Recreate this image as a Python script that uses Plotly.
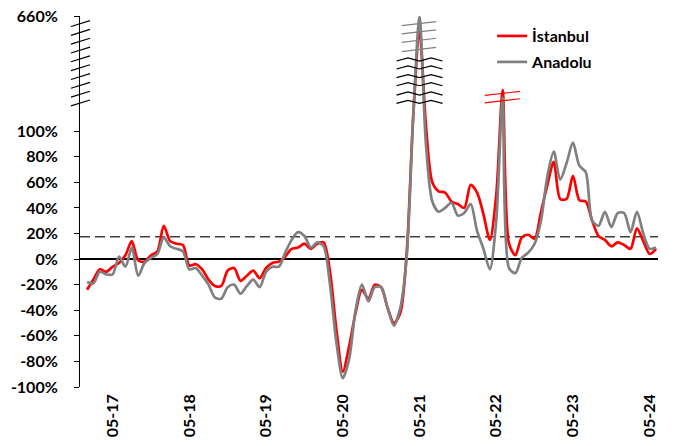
import plotly.graph_objects as go

# Monthly series, Jan 2017 .. Jun 2024 (annual change, %)
months = [f"{m:02d}-{y:02d}" for y in range(17, 25) for m in range(1, 13)][:90]

istanbul = [-24, -16, -8, -10, -6, -3, 3, 14, -1, -2,
            3, 6, 26, 14, 12, 11, -5, -4, -8, -16,
            -21, -21, -9, -7, -17, -13, -9, -15, -7, -3,
            -2, 2, 8, 9, 12, 8, 12, 13, -10, -55,
            -88, -68, -42, -24, -31, -20, -22, -38, -50, -42,
            5, 162, 583, 131, 60, 53, 52, 45, 43, 40,
            58, 52, 35, 15, 50, 299, 12, 3, 17, 19,
            16, 37, 58, 76, 47, 47, 65, 46, 45, 30,
            18, 15, 10, 13, 11, 8, 24, 14, 4, 8]

anadolu = [-18, -19, -10, -12, -12, 2, -6, 9, -13, -3,
           1, 4, 17, 10, 8, 6, -8, -7, -13, -20,
           -30, -31, -22, -20, -27, -21, -16, -22, -10, -6,
           -6, 5, 15, 21, 18, 9, 13, 10, -20, -65,
           -93, -78, -40, -20, -33, -22, -22, -38, -52, -38,
           2, 162, 655, 90, 45, 37, 40, 44, 34, 36,
           43, 22, 8, -8, 30, 262, -7, -11, 1, 5,
           12, 30, 65, 84, 62, 75, 91, 73, 68, 30,
           26, 37, 25, 36, 36, 21, 37, 20, 8, 9]

reference_level = 17.5
tick_labels = ["05-17", "05-18", "05-19", "05-20", "05-21", "05-22", "05-23", "05-24"]
y_ticks = [-100, -80, -60, -40, -20, 0, 20, 40, 60, 80, 100, 660]

# Broken value axis: everything above 100% is compressed into a short band
BREAK = 100
TOP_REAL = 660
TOP_AXIS = 190


def to_axis(v):
    return v if v <= BREAK else BREAK + (v - BREAK) * (TOP_AXIS - BREAK) / (TOP_REAL - BREAK)


x = list(range(len(months)))
font = "Lato"

fig = go.Figure()
fig.add_trace(go.Scatter(x=x, y=[to_axis(v) for v in istanbul], name="İstanbul", legend="legend",
                         mode="lines", line=dict(color="#ff0000", width=2.7, shape="spline", smoothing=0.8)))
fig.add_trace(go.Scatter(x=x, y=[to_axis(v) for v in anadolu], name="Anadolu", legend="legend2",
                         mode="lines", line=dict(color="#808080", width=2.7, shape="spline", smoothing=0.8)))

shapes = []
# reference level
shapes.append(dict(type="line", xref="paper", x0=0, x1=1, yref="y",
                   y0=reference_level, y1=reference_level, layer="below",
                   line=dict(color="#404040", width=1.5, dash="10px,5px")))


def slash(x0, x1, yc, rise, color, xref="x", width=1.2):
    return dict(type="line", xref=xref, yref="y", x0=x0, x1=x1,
                y0=yc - rise, y1=yc + rise, line=dict(color=color, width=width))


# break marks on the value axis
for k in range(10):
    yc = 122 + k * 6.9
    shapes.append(slash(-0.0156, 0.0173, yc, 2.3, "#000000", xref="paper"))

# break marks on the 2021 peak
pk1 = istanbul.index(max(istanbul))
for yc in [184, 177.6, 171, 163.8]:
    shapes.append(slash(pk1 - 2.8, pk1 + 2.6, yc, 1.6, "#808080"))
for yc in [156, 149.8, 143, 136.7, 129.4, 122.9]:
    xs = [pk1 - 3.6, pk1 - 1.8, pk1, pk1 + 1.8, pk1 + 3.6]
    ys = [yc - 1.2, yc + 1.2, yc - 1.2, yc + 1.2, yc - 1.2]
    path = "M " + " L ".join(f"{a},{b}" for a, b in zip(xs, ys))
    shapes.append(dict(type="path", xref="x", yref="y", path=path,
                       line=dict(color="#000000", width=1.2)))

# break marks on the 2022 peak
pk2 = 65
for yc in [129.5, 123.7]:
    shapes.append(slash(pk2 - 2.8, pk2 + 2.7, yc, 1.6, "#ff0000"))

legend_style = dict(x=0.713, xanchor="left", yanchor="middle",
                    font=dict(family=font, size=16, color="#000000", weight="bold"),
                    bgcolor="rgba(0,0,0,0)")

fig.update_layout(
    width=675, height=446,
    margin=dict(l=80, r=17, t=16, b=59),
    plot_bgcolor="white", paper_bgcolor="white",
    font=dict(family=font, size=16, color="#000000"),
    shapes=shapes,
    showlegend=True,
    legend=dict(y=0.946, **legend_style),
    legend2=dict(y=0.876, **legend_style),
)
fig.update_xaxes(range=[-1.1, 89.3], showgrid=False, zeroline=False, showline=False,
                 automargin=False,
                 tickmode="array", tickvals=[months.index(t) for t in tick_labels],
                 ticktext=tick_labels, tickangle=-90, ticks="", ticklabelstandoff=3,
                 tickfont=dict(family=font, size=16, weight="bold"))
fig.update_yaxes(range=[-100, TOP_AXIS], showgrid=False, automargin=False,
                 zeroline=True, zerolinecolor="#000000", zerolinewidth=1.5,
                 showline=True, linecolor="#000000", linewidth=1,
                 ticks="outside", ticklen=5, tickcolor="#000000",
                 tickmode="array", tickvals=[to_axis(v) for v in y_ticks],
                 ticktext=[f"{v}%" for v in y_ticks], ticklabelstandoff=13,
                 tickfont=dict(family=font, size=16, weight="bold"))

fig.write_html("out.html")
